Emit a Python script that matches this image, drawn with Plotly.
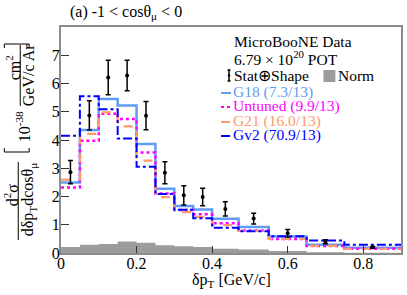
import plotly.graph_objects as go

# ---------------- data ----------------
bin_edges = [0, 0.05, 0.1, 0.15, 0.2, 0.25, 0.3, 0.35, 0.4, 0.47, 0.55, 0.65, 0.75, 0.9]
data_vals = [2.86, 4.87, 6.21, 6.28, 4.86, 2.84, 2.04, 1.98, 1.56, 1.22, 0.70, 0.40, 0.20]
data_errs = [0.41, 0.52, 0.61, 0.54, 0.50, 0.39, 0.34, 0.31, 0.25, 0.19, 0.13, 0.07, 0.03]
g18_vals = [2.50, 4.35, 5.45, 5.22, 3.86, 2.27, 1.66, 1.54, 1.21, 0.92, 0.58, 0.29, 0.19]
untuned_vals = [2.32, 3.97, 4.93, 4.74, 3.56, 2.11, 1.52, 1.37, 1.05, 0.80, 0.50, 0.25, 0.15]
g21_vals = [2.60, 4.22, 4.98, 4.48, 3.27, 1.98, 1.45, 1.28, 0.99, 0.78, 0.50, 0.25, 0.15]
gv2_vals = [4.15, 5.55, 5.09, 4.05, 3.05, 2.09, 1.53, 1.23, 0.89, 0.77, 0.59, 0.44, 0.29]
norm_vals = [0.21, 0.29, 0.32, 0.41, 0.36, 0.27, 0.24, 0.21, 0.15, 0.12, 0.07, 0.03, 0.01]
x_ticks = [0, 0.2, 0.4, 0.6, 0.8]
x_tick_labels = ["0", "0.2", "0.4", "0.6", "0.8"]
y_ticks = [0, 1, 2, 3, 4, 5, 6, 7]
y_tick_labels = ["0", "1", "2", "3", "4", "5", "6", "7"]
model_names = ["G18 (7.3/13)", "Untuned (9.9/13)", "G21 (16.0/13)", "Gv2 (70.9/13)"]

# ---------------- layout constants ----------------
W, H = 407, 295
ML, MR, MT, MB = 61, 4, 27, 42
PW, PH = W - ML - MR, H - MT - MB
FONT = "Liberation Serif, Times New Roman, serif"


def px2x(px):
    return (px - ML) / PW


def px2y(py):
    return (H - MB - py) / PH


centers = [(a + b) / 2 for a, b in zip(bin_edges[:-1], bin_edges[1:])]


def step(vals):
    return list(bin_edges), list(vals) + [vals[-1]]


fig = go.Figure()

# Norm uncertainty band
sx, sy = step(norm_vals)
fig.add_trace(go.Scatter(x=sx, y=sy, mode="lines", line=dict(shape="hv", width=0, color="#9c9c9c"),
                         fill="tozeroy", fillcolor="#9c9c9c", showlegend=False, hoverinfo="skip"))

styles = [
    dict(color="#5f9cf5", width=2.5, dash="solid"),
    dict(color="#ff00ff", width=2.5, dash="dot"),
    dict(color="#ff9a6a", width=2.2, dash="dash"),
    dict(color="#0000ff", width=2.0, dash="dashdot"),
]
for vals, st, nm in zip([g18_vals, untuned_vals, g21_vals, gv2_vals], styles, model_names):
    sx, sy = step(vals)
    fig.add_trace(go.Scatter(x=sx, y=sy, mode="lines", name=nm,
                             line=dict(shape="hv", **st), showlegend=False))

fig.add_trace(go.Scatter(x=centers, y=data_vals, mode="markers",
                         marker=dict(color="black", size=4),
                         error_y=dict(type="data", array=data_errs, color="black", thickness=1.5, width=2.5),
                         showlegend=False))

fig.update_xaxes(range=[0, 0.9], tickvals=x_ticks, ticktext=x_tick_labels,
                 ticks="inside", ticklen=7, tickcolor="#333333", tickwidth=1,
                 ticklabelstandoff=-5,
                 showline=True, linecolor="#8c8c8c", linewidth=2, mirror=True,
                 showgrid=False, zeroline=False,
                 tickfont=dict(family=FONT, size=16, color="black"))
fig.update_yaxes(range=[0, 8], tickvals=y_ticks, ticktext=y_tick_labels,
                 ticks="inside", ticklen=8, tickcolor="#333333", tickwidth=1,
                 ticklabelstandoff=-4,
                 showline=True, linecolor="#8c8c8c", linewidth=2, mirror=True,
                 showgrid=False, zeroline=False,
                 tickfont=dict(family=FONT, size=16, color="black"))

ann = []
shapes = []


def text(px, py, s, color="black", size=16, anchor="center", angle=0):
    ann.append(dict(x=px2x(px), y=px2y(py), xref="paper", yref="paper", text=s, showarrow=False,
                    xanchor=anchor, yanchor="middle", textangle=angle,
                    font=dict(family=FONT, size=size, color=color)))


def line(x0, y0, x1, y1, color="black", width=1, dash="solid"):
    shapes.append(dict(type="line", xref="paper", yref="paper", x0=px2x(x0), y0=px2y(y0),
                       x1=px2x(x1), y1=px2y(y1), line=dict(color=color, width=width, dash=dash)))


# title
text(68, 13, "(a) -1 < cosθ<sub>μ</sub> < 0", anchor="left")
# x axis title
text(232, 280, "δp<sub>T</sub> [GeV/c]")

# y-axis title, built from pieces
text(11, 195, "d<sup>2</sup>σ", angle=-90)
line(18, 162, 18, 240)
text(28, 200, "dδp<sub>T</sub>dcosθ<sub>μ</sub>", angle=-90)
text(23, 127, "10<sup>-38</sup>", angle=-90)
text(13, 68, "cm<sup>2</sup>", angle=-90)
line(20, 45, 20, 106)
text(28, 75, "GeV/c Ar", angle=-90)
# brackets
line(4, 152, 29, 152)
line(4, 152, 4, 148)
line(29, 152, 29, 148)
line(4, 44, 29, 44)
line(4, 44, 4, 48)
line(29, 44, 29, 48)

# legend
LS = 15.5
text(233, 41, "MicroBooNE Data", anchor="left", size=LS)
text(233, 58, "6.79 × 10<sup>20</sup> POT", anchor="left", size=LS)
text(233, 75, "Stat⊕Shape", anchor="left", size=LS)
line(230, 70, 230, 81, width=1.5)
line(228.5, 70, 231.5, 70, width=1.5)
line(228.5, 81, 231.5, 81, width=1.5)
shapes.append(dict(type="circle", xref="paper", yref="paper", x0=px2x(228.8), x1=px2x(231.2),
                   y0=px2y(76.7), y1=px2y(74.3), fillcolor="black", line=dict(width=0)))
shapes.append(dict(type="rect", xref="paper", yref="paper", x0=px2x(325), x1=px2x(337),
                   y0=px2y(82), y1=px2y(70), fillcolor="#9c9c9c", line=dict(width=0)))
text(338, 75, "Norm", anchor="left", size=LS)
leg_y = [92, 106, 121, 135]
for nm, st, yy in zip(model_names, styles, leg_y):
    text(232, yy, nm, color=st["color"], anchor="left", size=LS)
    line(222, yy + 1, 232, yy + 1, color=st["color"], width=2, dash=st["dash"])

fig.update_layout(width=W, height=H, margin=dict(l=ML, r=MR, t=MT, b=MB),
                  plot_bgcolor="white", paper_bgcolor="white",
                  annotations=ann, shapes=shapes, showlegend=False)

fig.write_html("out.html", config={"displayModeBar": False},
               post_script="document.body.style.margin='0px';")
